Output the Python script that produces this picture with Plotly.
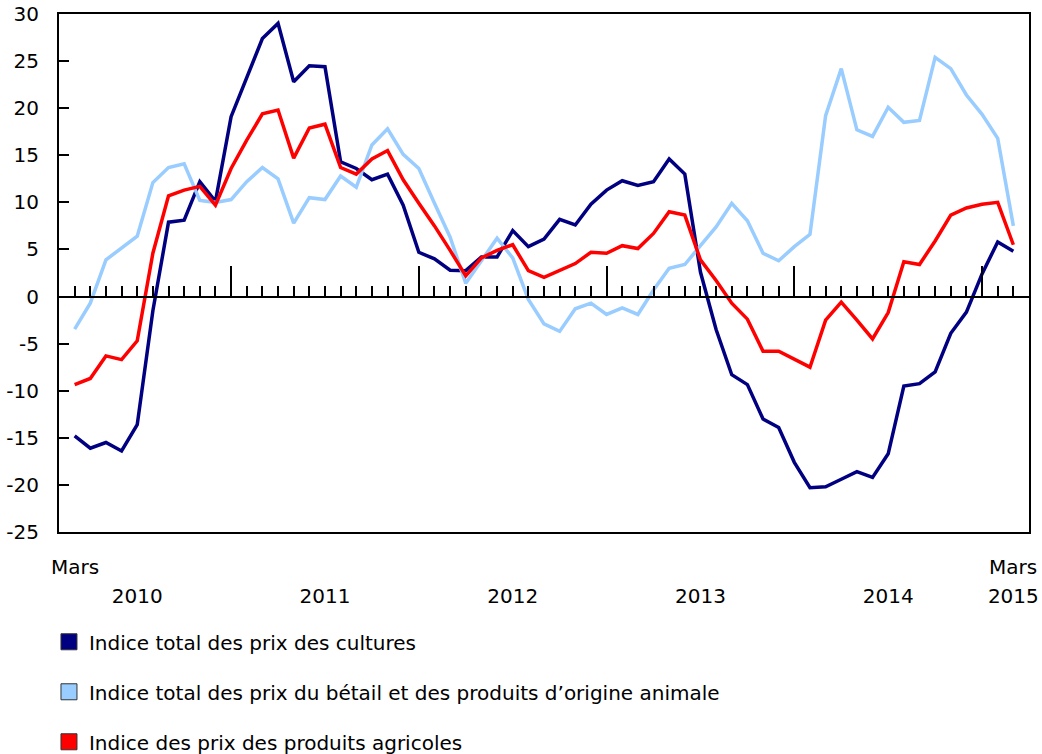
import plotly.graph_objects as go

# Monthly data, March 2010 to March 2015 (61 months)
months = []
for y in range(2010, 2016):
    for m in range(1, 13):
        if (y == 2010 and m < 3) or (y == 2015 and m > 3):
            continue
        months.append(f"{y}-{m:02d}")
month_idx = list(range(len(months)))

crops = [-14.8, -16.1, -15.5, -16.4, -13.6, -1.5, 7.9, 8.1, 12.2, 10.1,
         19.1, 23.2, 27.4, 29.0, 22.8, 24.5, 24.4, 14.3, 13.6, 12.4,
         13.0, 9.7, 4.7, 4.0, 2.8, 2.75, 4.2, 4.2, 7.0, 5.3,
         6.1, 8.2, 7.6, 9.8, 11.3, 12.3, 11.8, 12.2, 14.6, 13.0,
         2.6, -3.5, -8.3, -9.35, -13.0, -13.9, -17.6, -20.3, -20.2, -19.4,
         -18.6, -19.2, -16.7, -9.5, -9.25, -8.0, -3.9, -1.65, 2.4, 5.8,
         4.8]

livestock = [-3.45, -0.7, 3.9, 5.2, 6.4, 12.1, 13.7, 14.1, 10.2, 10.0,
             10.3, 12.2, 13.7, 12.5, 7.8, 10.5, 10.3, 12.8, 11.6, 16.1,
             17.8, 15.1, 13.6, 9.9, 6.3, 1.4, 3.8, 6.2, 4.1, -0.3,
             -2.9, -3.7, -1.3, -0.7, -1.9, -1.2, -1.9, 0.7, 3.0, 3.4,
             5.4, 7.4, 9.9, 8.05, 4.6, 3.8, 5.3, 6.6, 19.2, 24.2,
             17.7, 17.0, 20.1, 18.5, 18.7, 25.4, 24.2, 21.4, 19.35, 16.8,
             7.5]

farm = [-9.35, -8.7, -6.3, -6.7, -4.7, 4.6, 10.7, 11.3, 11.7, 9.7,
        13.6, 16.6, 19.4, 19.8, 14.7, 17.9, 18.3, 13.7, 13.0, 14.6,
        15.5, 12.4, 9.9, 7.5, 4.9, 2.2, 4.1, 4.9, 5.5, 2.75,
        2.05, 2.75, 3.5, 4.7, 4.6, 5.4, 5.1, 6.7, 9.0, 8.65,
        3.9, 1.7, -0.7, -2.4, -5.8, -5.8, -6.7, -7.5, -2.5, -0.6,
        -2.5, -4.5, -1.7, 3.7, 3.4, 5.9, 8.65, 9.4, 9.8, 10.0,
        5.5]

series_names = ["Indice total des prix des cultures",
                "Indice total des prix du bétail et des produits d\u2019origine animale",
                "Indice des prix des produits agricoles"]
series_colors = ["#000080", "#99CCFF", "#FF0000"]
series_values = [crops, livestock, farm]

y_tick_vals = [-25, -20, -15, -10, -5, 0, 5, 10, 15, 20, 25, 30]
y_tick_text = ["-25", "-20", "-15", "-10", "-5", "0", "5", "10", "15", "20", "25", "30"]

year_label_pos = [4, 16, 28, 40, 52, 60]
year_label_text = ["2010", "2011", "2012", "2013", "2014", "2015"]
mars_pos = [0, 60]
mars_text = ["Mars", "Mars"]

FONT = "DejaVu Sans"
FS = 20

fig = go.Figure()

for name, color, vals in zip(series_names, series_colors, series_values):
    fig.add_trace(go.Scatter(
        x=month_idx, y=vals, mode="lines", name=name,
        line=dict(color=color, width=3.5),
        text=months, hovertemplate="%{text}: %{y}<extra></extra>",
        showlegend=False))

# legend entries (square swatches)
for i, (name, color) in enumerate(zip(series_names, series_colors)):
    fig.add_trace(go.Scatter(
        x=[None], y=[None], mode="markers", name=name,
        marker=dict(symbol="square", size=20, color=color,
                    line=dict(color="#333333", width=1)),
        legendgroup=f"g{i}", showlegend=True, hoverinfo="skip"))

# helper trace for the zero-line axis
fig.add_trace(go.Scatter(x=[None], y=[None], xaxis="x2", yaxis="y",
                         showlegend=False, hoverinfo="skip"))

fig.update_layout(
    width=1042, height=754,
    margin=dict(l=59, r=13, t=14, b=222, autoexpand=False),
    paper_bgcolor="white", plot_bgcolor="white",
    font=dict(family=FONT, size=FS, color="black"),
    xaxis=dict(range=[-1, 61], showline=True, mirror=True,
               linecolor="black", linewidth=2, showgrid=False,
               zeroline=False, ticks="", tickangle=0, automargin=False,
               tickmode="array", tickvals=year_label_pos,
               ticktext=year_label_text, ticklabelstandoff=45,
               tickfont=dict(family=FONT, size=FS)),
    xaxis2=dict(range=[-1, 61], overlaying="x", anchor="free",
                position=25 / 55, side="bottom", automargin=False,
                showline=True, linecolor="black", linewidth=2,
                showgrid=False, zeroline=False, showticklabels=False,
                ticks="inside", tickmode="linear", tick0=10, dtick=12,
                ticklen=30, tickwidth=2, tickcolor="black",
                minor=dict(ticks="inside", tickmode="linear", tick0=0,
                           dtick=1, ticklen=10, tickwidth=2,
                           tickcolor="black", showgrid=False)),
    yaxis=dict(range=[-25, 30], tickmode="array", tickvals=y_tick_vals,
               ticktext=y_tick_text,
               showline=True, mirror=True, linecolor="black", linewidth=2,
               showgrid=False, zeroline=False, ticks="inside",
               ticklen=10, tickwidth=2, tickcolor="black",
               ticklabelstandoff=14, automargin=False,
               tickfont=dict(family=FONT, size=FS)),
    legend=dict(xref="container", yref="container", x=0.047, y=0.1747,
                xanchor="left", yanchor="top", orientation="v",
                tracegroupgap=21, font=dict(family=FONT, size=FS),
                bgcolor="rgba(0,0,0,0)"),
    showlegend=True,
)

for p, t in zip(mars_pos, mars_text):
    fig.add_annotation(x=p, y=0, xref="x", yref="paper", text=t,
                       showarrow=False, yanchor="top", xanchor="center",
                       yshift=-21, font=dict(family=FONT, size=FS))

fig.write_html("out.html",
               config={"displayModeBar": False},
               post_script="document.body.style.margin='0px';"
                           "document.body.style.overflow='hidden';")
